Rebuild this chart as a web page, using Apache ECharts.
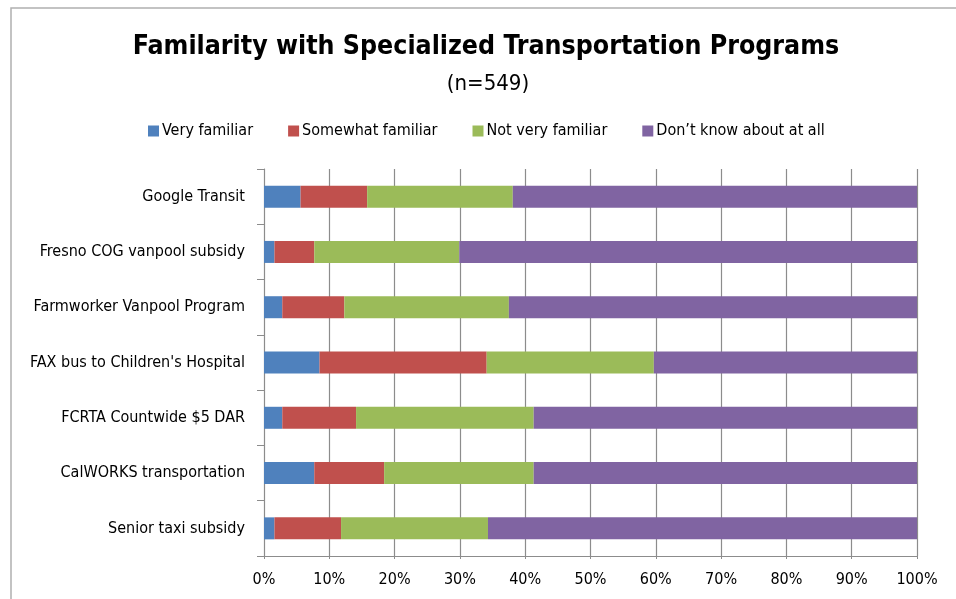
<!DOCTYPE html>
<html>
<head>
    <meta charset="UTF-8">
    <script src="https://cdn.jsdelivr.net/npm/echarts@6/dist/echarts.min.js"></script>
    <style>
        html, body { margin: 0; padding: 0; background: #fff; }
        #chart { width: 956px; height: 599px; }
    </style>
</head>
<body>
<div id="chart"></div>
<script>
    // programs, top to bottom as shown
    var programs = ['Google Transit', 'Fresno COG vanpool subsidy', 'Farmworker Vanpool Program',
        "FAX bus to Children's Hospital", 'FCRTA Countwide $5 DAR', 'CalWORKS transportation', 'Senior taxi subsidy'];
    var veryFamiliar     = [5.6, 1.6, 2.8, 8.5, 2.8, 7.7, 1.6];
    var somewhatFamiliar = [10.2, 6.1, 9.5, 25.6, 11.3, 10.7, 10.2];
    var notVeryFamiliar  = [22.3, 22.2, 25.2, 25.6, 27.2, 22.9, 22.5];
    var dontKnow         = [61.9, 70.1, 62.5, 40.3, 58.7, 58.7, 65.7];
    var seriesNames = ['Very familiar', 'Somewhat familiar', 'Not very familiar', 'Don\u2019t know about at all'];
    var colors = ['#4F81BD', '#C0504D', '#9BBB59', '#8064A2'];

    var font = "'Liberation Sans Narrow', 'DejaVu Sans Condensed', sans-serif";
    var chart = echarts.init(document.getElementById('chart'));

    var allData = [veryFamiliar, somewhatFamiliar, notVeryFamiliar, dontKnow];
    var series = allData.map(function (d, i) {
        return {
            name: seriesNames[i],
            type: 'bar',
            stack: 'total',
            barWidth: 22,
            itemStyle: { color: colors[i] },
            data: d
        };
    });

    chart.setOption({
        animation: false,
        color: colors,
        graphic: [{
            type: 'rect',
            shape: { x: 11, y: 8, width: 1000, height: 700 },
            style: { fill: 'none', stroke: '#b0b0b0', lineWidth: 1.5 },
            silent: true
        }],
        title: [{
            text: 'Familarity with Specialized Transportation Programs',
            left: 481, top: 29, textAlign: 'center',
            textStyle: { fontFamily: font, fontWeight: 'bold', fontSize: 26.5, color: '#000' }
        }, {
            text: '(n=549)',
            left: 483, top: 68, textAlign: 'center',
            textStyle: { fontFamily: font, fontWeight: 'normal', fontSize: 22, color: '#000' }
        }],
        legend: {
            top: 118, left: 143,
            itemWidth: 11, itemHeight: 11, itemGap: 35,
            icon: 'rect',
            textStyle: { fontFamily: font, fontSize: 16, color: '#000', padding: [0, 0, 0, -2] },
            data: seriesNames
        },
        grid: { left: 264, right: 39, top: 169, bottom: 43, containLabel: false },
        xAxis: {
            type: 'value', min: 0, max: 100, interval: 10,
            axisLabel: { formatter: '{value}%', fontFamily: font, fontSize: 16, color: '#000', margin: 16 },
            axisLine: { show: true, lineStyle: { color: '#8c8c8c' } },
            axisTick: { show: true, length: 3, lineStyle: { color: '#8c8c8c' } },
            splitLine: { show: true, lineStyle: { color: '#8c8c8c', width: 1.2 } }
        },
        yAxis: {
            type: 'category', inverse: true, data: programs,
            axisLabel: { fontFamily: font, fontSize: 16, color: '#000', margin: 19 },
            axisLine: { show: true, lineStyle: { color: '#8c8c8c' } },
            axisTick: { show: true, length: 7, lineStyle: { color: '#8c8c8c' } },
            splitLine: { show: false }
        },
        series: series
    });
</script>
</body>
</html>
